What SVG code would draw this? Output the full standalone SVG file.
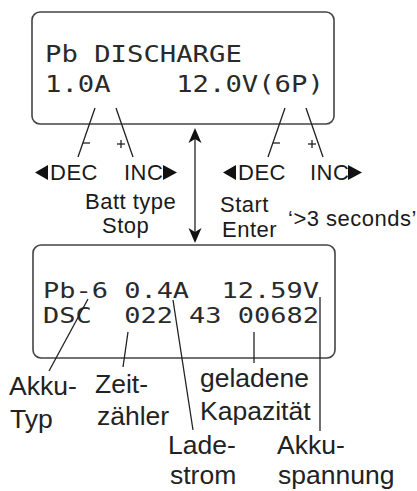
<svg xmlns="http://www.w3.org/2000/svg" width="417" height="491" viewBox="0 0 417 491">
<style>
.box{fill:#fff;stroke:#444;stroke-width:1.6}
.lcd{font-family:"DejaVu Sans Mono","Liberation Mono",monospace;fill:#2a2a2a;}
.btn{font-family:"Liberation Sans",Arial,sans-serif;font-size:22px;fill:#1a1a1a;letter-spacing:0.5px}
.lbl{font-family:"Liberation Sans",Arial,sans-serif;font-size:26.5px;fill:#222}
.ln{stroke:#222;stroke-width:1.3;fill:none}
.tri{fill:#111}
</style>
<rect width="417" height="491" fill="#fff"/>
<g id="display-top">
<rect class="box" x="32" y="12" width="302" height="112" rx="8"/>
<text class="lcd" font-size="23" x="45" y="62" textLength="196.8" lengthAdjust="spacingAndGlyphs" xml:space="preserve">Pb DISCHARGE</text>
<text class="lcd" font-size="23" x="45" y="92" textLength="278.8" lengthAdjust="spacingAndGlyphs" xml:space="preserve">1.0A    12.0V(6P)</text>
</g>
<g id="display-bottom">
<rect class="box" x="33" y="245" width="302" height="113" rx="8"/>
<text class="lcd" font-size="20.5" x="43" y="298" textLength="276" lengthAdjust="spacingAndGlyphs" xml:space="preserve">Pb-6 0.4A  12.59V</text>
<text class="lcd" font-size="20.5" x="43" y="323" textLength="276" lengthAdjust="spacingAndGlyphs" xml:space="preserve">DSC  022 43 00682</text>
</g>
<g id="buttons-left">
<polygon class="tri" points="35,172.5 48,165 48,180"/>
<text class="btn" x="50" y="180">DEC</text>
<text class="btn" x="124" y="180">INC</text>
<polygon class="tri" points="163,165 163,180 177,172.5"/>
<text class="btn" x="85" y="209">Batt type</text>
<text class="btn" x="102" y="233">Stop</text>
</g>
<g id="buttons-right">
<polygon class="tri" points="223,172.5 236,165 236,180"/>
<text class="btn" x="238" y="180">DEC</text>
<text class="btn" x="310" y="180">INC</text>
<polygon class="tri" points="348,165 348,180 362,172.5"/>
<text class="btn" x="220" y="212">Start</text>
<text class="btn" x="222" y="237">Enter</text>
<text class="btn" x="288" y="226">‘&gt;3 seconds’</text>
</g>
<g id="labels">
<text class="lbl" x="9" y="395">Akku-</text>
<text class="lbl" x="10" y="428">Typ</text>
<text class="lbl" x="95" y="393">Zeit-</text>
<text class="lbl" x="97" y="425">zähler</text>
<text class="lbl" x="200" y="387">geladene</text>
<text class="lbl" x="200" y="420">Kapazität</text>
<text class="lbl" x="168" y="454">Lade-</text>
<text class="lbl" x="170" y="484">strom</text>
<text class="lbl" x="277" y="454">Akku-</text>
<text class="lbl" x="278" y="484">spannung</text>
</g>
<g id="connectors">
<line class="ln" x1="95" y1="108" x2="78" y2="157"/>
<line class="ln" x1="83" y1="143" x2="90" y2="143"/>
<line class="ln" x1="116" y1="108" x2="133" y2="157"/>
<line class="ln" x1="117" y1="144" x2="125" y2="144"/>
<line class="ln" x1="121" y1="140" x2="121" y2="148"/>
<line class="ln" x1="285" y1="108" x2="268" y2="157"/>
<line class="ln" x1="273" y1="143" x2="280" y2="143"/>
<line class="ln" x1="306" y1="108" x2="323" y2="157"/>
<line class="ln" x1="308" y1="144" x2="316" y2="144"/>
<line class="ln" x1="312" y1="140" x2="312" y2="148"/>
<line class="ln" x1="195" y1="135" x2="195" y2="236" stroke-width="1.5"/>
<path class="tri" d="M195,128 L201.5,143 L195,139 L188.5,143 Z"/>
<path class="tri" d="M195,243 L201.5,228 L195,232 L188.5,228 Z"/>
<line class="ln" x1="88" y1="299" x2="49" y2="371"/>
<line class="ln" x1="128" y1="332" x2="123" y2="367"/>
<line class="ln" x1="173" y1="300" x2="193" y2="430"/>
<line class="ln" x1="254" y1="332" x2="254" y2="363"/>
<line class="ln" x1="320" y1="297" x2="320" y2="431"/>
</g>
</svg>
